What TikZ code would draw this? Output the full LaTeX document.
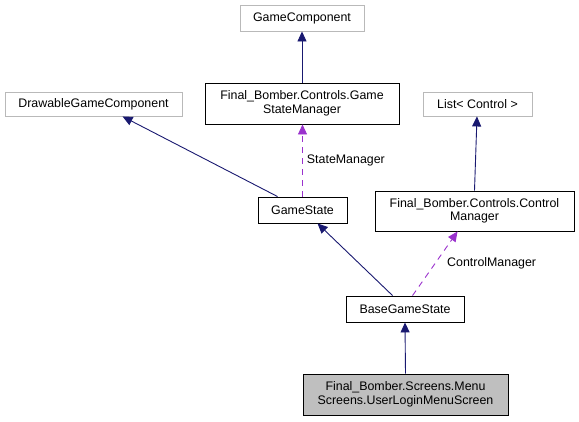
\documentclass[tikz,border=0pt]{standalone}
\usepackage{fontspec}
\setmainfont{Liberation Sans}
\usetikzlibrary{arrows.meta,calc}
\begin{document}
\begin{tikzpicture}[x=1pt,y=-1pt,
  box/.style={draw=black,line width=0.9pt,fill=white,inner sep=0pt,align=center,font=\fontsize{12.4}{13.5}\selectfont},
  extbox/.style={box,draw=gray!55},
  inh/.style={draw={rgb,255:red,25;green,25;blue,112},line width=0.9pt,-{Triangle[length=10pt,width=9pt]}},
  use/.style={draw={rgb,255:red,154;green,50;blue,205},line width=0.9pt,dash pattern=on 6pt off 5pt,-{Triangle[length=10pt,width=9pt]}},
  lbl/.style={font=\fontsize{12.4}{13.5}\selectfont,inner sep=0pt,anchor=west}]
\useasboundingbox (0,0) rectangle (579,421);
\node[extbox,minimum width=124pt,minimum height=26pt] (gc) at (302,18) {GameComponent};
\node[box,minimum width=194pt,minimum height=41pt] (gsm) at (302,103.5) {Final\_Bomber.Controls.Game\\StateManager};
\node[extbox,minimum width=177pt,minimum height=24pt] (dgc) at (93.5,104) {DrawableGameComponent};
\node[extbox,minimum width=109pt,minimum height=24pt] (list) at (477.5,104) {List< Control >};
\node[box,minimum width=89pt,minimum height=26pt] (gs) at (302.5,210) {GameState};
\node[box,minimum width=199pt,minimum height=40pt] (cm) at (474.5,211) {Final\_Bomber.Controls.Control\\Manager};
\node[box,minimum width=118pt,minimum height=26pt] (bgs) at (405,309) {BaseGameState};
\node[box,fill={rgb,255:red,191;green,191;blue,191},minimum width=205pt,minimum height=41pt] (ul) at (405.5,394.5) {Final\_Bomber.Screens.Menu\\Screens.UserLoginMenuScreen};
\draw[inh] (gsm.north) -- (gc.south);
\draw[inh] ($(gs.north west)+(20,0)$) -- ($(dgc.south west)+(118,0)$);
\draw[use] (gs.north) -- node[lbl,right=4pt] (lsm) {StateManager} ($(gsm.south)+(0.5,0)$);
\draw[inh] (cm.north) -- ($(list.south)+(-0.5,0)$);
\draw[inh] ($(bgs.north west)+(47,0)$) -- ($(gs.south west)+(60,0)$);
\draw[use] ($(bgs.north west)+(67,0)$) -- ($(cm.south west)+(83,0)$);
\node[lbl] (lcm) at (447,263) {ControlManager};
\draw[inh] (ul.north) -- (bgs.south);
\end{tikzpicture}
\end{document}
